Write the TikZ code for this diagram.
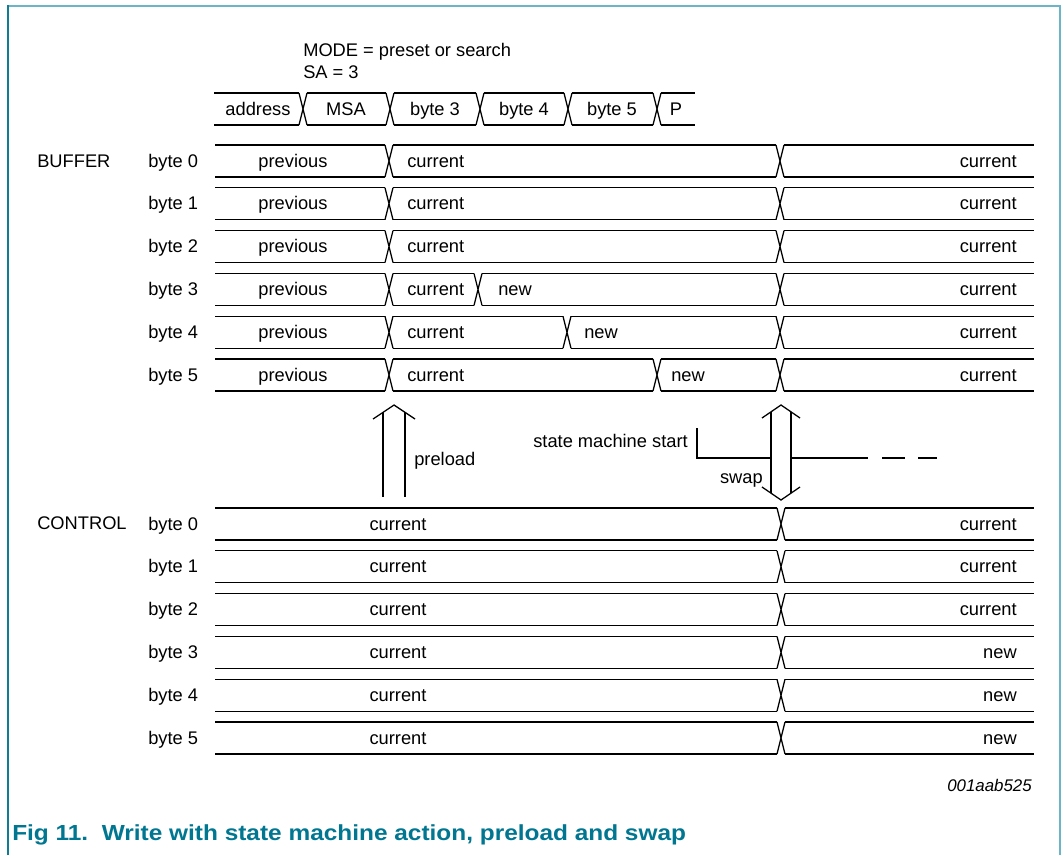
\documentclass[tikz,border=0pt]{standalone}
\usepackage{fontspec}
\setmainfont{Liberation Sans}
\usetikzlibrary{positioning}
\definecolor{nxpteal}{RGB}{0,118,145}
\definecolor{framedark}{RGB}{16,124,147}
\definecolor{framelight}{RGB}{108,180,200}

% one bus row: #1 top y, #2 start x, #3 end x, #4 transition x list
\newcommand{\busrow}[4]{%
  \edef\trlist{#4}%
  \draw[bus] (#2,#1) \foreach \tx in \trlist { -- (\tx-4,#1) (\tx+4,#1) } -- (#3,#1);
  \draw[bus] (#2,#1+32) \foreach \tx in \trlist { -- (\tx-4,#1+32) (\tx+4,#1+32) } -- (#3,#1+32);
  \foreach \tx in \trlist { \draw[bus] (\tx-4,#1) -- (\tx+4,#1+32) (\tx+4,#1) -- (\tx-4,#1+32); }
}

\begin{document}
\begin{tikzpicture}[x=0.025cm, y=-0.025cm,
    bus/.style={line width=0.9pt},
    lbl/.style={font=\fontsize{13}{15}\selectfont, inner sep=0pt, text height=0.72em, text depth=0.21em, yshift=-1.8pt},
    hollow/.style={line width=0.9pt, line join=miter},
    sigline/.style={line width=1.8pt}]
    \useasboundingbox (0,0) rectangle (1063,855);
    % frame
    \draw[framelight, line width=1.5pt] (8,6) -- (1060,6) -- (1060,855);
    \draw[framedark, line width=1.5pt] (8,5) -- (8,855);

    % command sequence
    \node[lbl, anchor=west] (mode) at (303,50) {MODE = preset or search};
    \node[lbl, anchor=west] (sa) at (303,72) {SA = 3};
    \busrow{93}{214}{695}{303,390,480,568,657}
    \node[lbl] (addr) at (258,109) {address};
    \node[lbl] (msa) at (346,109) {MSA};
    \node[lbl] (cb3) at (435,109) {byte 3};
    \node[lbl] (cb4) at (524,109) {byte 4};
    \node[lbl] (cb5) at (612,109) {byte 5};
    \node[lbl] (stop) at (676,109) {P};

    % buffer
    \node[lbl, anchor=west] (buffer) at (37,161) {BUFFER};
    \foreach \k/\tr in {0/{389,780},1/{389,780},2/{389,780},3/{389,478,780},4/{389,567,780},5/{389,657,780}} {
        \pgfmathsetmacro\rowtop{145+42.8*\k}
        \busrow{\rowtop}{215}{1034}{\tr}
        \node[lbl, anchor=west] (bbyte\k) at (148,\rowtop+16) {byte \k};
        \node[lbl] (bprev\k) at (293,\rowtop+16) {previous};
        \node[lbl, anchor=west] (bcur\k) at (407,\rowtop+16) {current};
        \node[lbl, anchor=east] (bend\k) at (1017,\rowtop+16) {current};
    }
    \node[lbl, anchor=west] (bnew3) at (498,289.4) {new};
    \node[lbl, anchor=west] (bnew4) at (584,332.2) {new};
    \node[lbl, anchor=west] (bnew5) at (671,375) {new};

    % preload arrow
    \draw[hollow] (373,419) -- (394,405) -- (415,419);
    \draw[hollow] (383,412) -- (383,497) (405,412) -- (405,497);
    \node[lbl, anchor=west] (preload) at (414,459) {preload};

    % swap arrow
    \draw[hollow] (762,418) -- (781,405) -- (800,418);
    \draw[hollow] (762,487) -- (781,500) -- (800,487);
    \draw[hollow] (771,412) -- (771,493) (791,412) -- (791,493);
    \node[lbl, anchor=east] (swap) at (763,477) {swap};

    % state machine start
    \node[lbl, anchor=east] (smstart) at (688,441) {state machine start};
    \draw[sigline] (697,428) -- (697,458) -- (771,458);
    \draw[sigline] (791,458) -- (868,458);
    \draw[sigline] (882,458) -- (905,458) (918,458) -- (937,458);

    % control
    \node[lbl, anchor=west] (control) at (37,523) {CONTROL};
    \foreach \k/\val in {0/current,1/current,2/current,3/new,4/new,5/new} {
        \pgfmathsetmacro\rowtop{508+42.8*\k}
        \busrow{\rowtop}{215}{1034}{781}
        \node[lbl, anchor=west] (cbyte\k) at (148,\rowtop+16) {byte \k};
        \node[lbl] (ccur\k) at (398,\rowtop+16) {current};
        \node[lbl, anchor=east] (cend\k) at (1017,\rowtop+16) {\val};
    }

    \node[font=\fontsize{12}{14}\selectfont\itshape, inner sep=0pt, anchor=east] (figid) at (1032,785) {001aab525};
    \node[font=\fontsize{15.5}{18}\selectfont\bfseries, text=nxpteal, inner sep=0pt, anchor=west] (caption) at (12,835)
        {\scalebox{1.12}[1]{Fig 11.\ \ Write with state machine action, preload and swap}};
\end{tikzpicture}
\end{document}
